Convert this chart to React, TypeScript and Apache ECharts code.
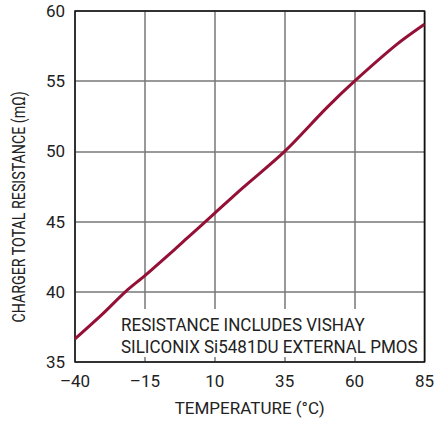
import React, { useEffect, useRef } from "react";
import * as echarts from "echarts";

const temperatures = [-40, -30, -22, -15, -5, 0, 10, 20, 35, 50, 60, 75, 85];
const resistance = [36.65, 38.45, 40.0, 41.15, 42.9, 43.8, 45.6, 47.4, 50.0, 53.1, 55.0, 57.6, 59.05];
const xTitle = "TEMPERATURE (°C)";
const yTitle = "CHARGER TOTAL RESISTANCE (mΩ)";
const noteLines = ["RESISTANCE INCLUDES VISHAY", "SILICONIX Si5481DU EXTERNAL PMOS"];

const FONT = "Roboto, 'Liberation Sans', sans-serif";

export default function App() {
  const ref = useRef<HTMLDivElement>(null);
  useEffect(() => {
    document.body.style.margin = "0";
    const chart = echarts.init(ref.current!, null, { renderer: "svg" });
    const gridLeft = 75, gridTop = 11, gridW = 352, gridH = 351;
    chart.setOption({
      animation: false,
      backgroundColor: "#ffffff",
      grid: { left: gridLeft, top: gridTop, width: gridW, height: gridH, show: true, borderColor: "#111", borderWidth: 1.5, backgroundColor: "transparent", z: 3 },
      xAxis: {
        type: "value",
        min: -40,
        max: 85,
        interval: 25,
        name: xTitle,
        nameLocation: "middle",
        nameGap: 37,
        nameTextStyle: { fontFamily: FONT, fontSize: 17, color: "#222" },
        axisLine: { show: false },
        axisTick: { show: false },
        axisLabel: {
          fontFamily: FONT, fontSize: 17, color: "#222", margin: 10,
          formatter: (v: number) => String(v).replace("-", "\u2013"),
        },
        splitLine: { show: true, lineStyle: { color: "#777", width: 1.5 } },
      },
      yAxis: {
        type: "value",
        min: 35,
        max: 60,
        interval: 5,
        axisLine: { show: false },
        axisTick: { show: false },
        axisLabel: { fontFamily: FONT, fontSize: 17, color: "#222", margin: 10 },
        splitLine: { show: true, lineStyle: { color: "#777", width: 1.5 } },
      },
      graphic: [
        {
          type: "text",
          x: 19,
          y: 207,
          rotation: Math.PI / 2,
          scaleX: 0.79,
          style: { text: yTitle, font: `18px ${FONT}`, fill: "#222", align: "center", verticalAlign: "middle" },
          z: 10,
        },
        {
          type: "rect",
          shape: { x: 116, y: 309, width: 306, height: 48 },
          style: { fill: "#ffffff" },
          z: 5,
        },
        {
          type: "text",
          x: 121,
          y: 324,
          scaleX: 0.91,
          style: { text: noteLines[0], font: `18.7px ${FONT}`, fill: "#222", verticalAlign: "middle" },
          z: 6,
        },
        {
          type: "text",
          x: 121,
          y: 346,
          scaleX: 0.91,
          style: { text: noteLines[1], font: `18.7px ${FONT}`, fill: "#222", verticalAlign: "middle" },
          z: 6,
        },
      ],
      series: [
        {
          type: "line",
          data: temperatures.map((t, i) => [t, resistance[i]]),
          smooth: 0.3,
          showSymbol: false,
          lineStyle: { color: "#951036", width: 3 },
          z: 4,
        },
      ],
    });
    return () => chart.dispose();
  }, []);
  return <div ref={ref} style={{ width: 437, height: 423 }} />;
}
